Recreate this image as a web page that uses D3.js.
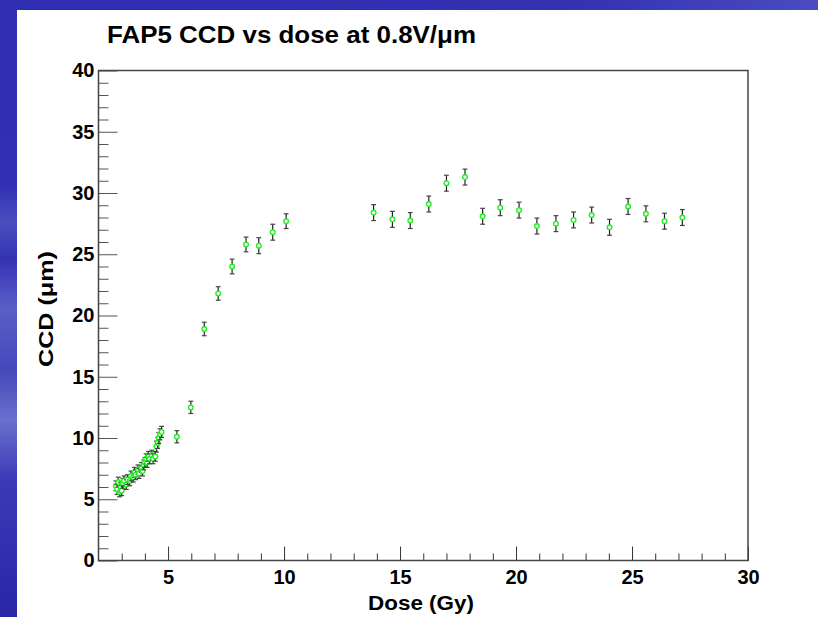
<!DOCTYPE html>
<html>
<head>
<meta charset="utf-8">
<script src="https://cdn.jsdelivr.net/npm/d3@7"></script>
<style>
  body { margin: 0; background: #fff; }
  svg { display: block; }
  .tick text { font-family: "Liberation Sans", Arial, sans-serif; font-weight: bold; font-size: 20px; fill: #000; }
</style>
</head>
<body>
<svg id="chart" width="818" height="617"></svg>
<script>
// data
const doseGy = [
  2.75, 2.8, 2.85, 2.9, 2.95, 3.0, 3.05, 3.1, 3.2, 3.25, 3.35, 3.4, 3.5, 3.55, 3.6,
  3.7, 3.75, 3.85, 3.9, 3.95, 4.0, 4.05, 4.1, 4.15, 4.2, 4.3, 4.35, 4.45, 4.5, 4.55,
  4.6, 4.65, 4.72,
  5.38, 5.98, 6.56, 7.16, 7.76, 8.36, 8.91, 9.51, 10.09,
  13.86, 14.67, 15.44, 16.24, 17.0, 17.8, 18.56, 19.32, 20.13, 20.9,
  21.72, 22.48, 23.26, 24.03, 24.83, 25.6, 26.4, 27.17
];
const ccdUm = [
  6.1, 5.8, 6.4, 5.6, 6.0, 5.7, 6.3, 6.5, 6.2, 6.6, 6.5, 6.9, 6.8, 7.2, 7.0,
  7.4, 7.1, 7.6, 7.3, 7.8, 8.0, 8.3, 8.0, 8.5, 8.3, 8.6, 8.3, 8.5, 9.3, 9.6,
  10.0, 10.3, 10.5,
  10.1, 12.5, 18.9, 21.8, 24.0, 25.8, 25.7, 26.8, 27.7,
  28.4, 27.85, 27.75, 29.1, 30.8, 31.3, 28.1, 28.8, 28.6, 27.3,
  27.5, 27.8, 28.2, 27.2, 28.9, 28.3, 27.7, 28.0
];
const ccdErr = [
  0.4, 0.4, 0.4, 0.4, 0.4, 0.4, 0.4, 0.4, 0.4, 0.4, 0.4, 0.4, 0.4, 0.4, 0.4,
  0.4, 0.4, 0.4, 0.4, 0.4, 0.4, 0.4, 0.4, 0.4, 0.4, 0.4, 0.4, 0.4, 0.45, 0.45,
  0.45, 0.45, 0.45,
  0.5, 0.5, 0.55, 0.55, 0.6, 0.6, 0.65, 0.65, 0.6,
  0.65, 0.65, 0.65, 0.65, 0.65, 0.65, 0.65, 0.65, 0.65, 0.65,
  0.65, 0.65, 0.65, 0.65, 0.65, 0.65, 0.65, 0.65
];
const xMajor = [5, 10, 15, 20, 25, 30];
const yMajor = [0, 5, 10, 15, 20, 25, 30, 35, 40];

const svg = d3.select("#chart");
const font = '"Liberation Sans", Arial, sans-serif';

// slide background (blue band on the left and top)
const defs = svg.append("defs");
const g1 = defs.append("linearGradient").attr("id", "slideBg")
  .attr("x1", 0).attr("y1", 0).attr("x2", 0).attr("y2", 1);
[[0, "#2f2db0"], [0.3, "#312fb2"], [0.36, "#4a4fc0"], [0.42, "#3433b3"],
 [0.5, "#5a5fc6"], [0.6, "#4448bb"], [0.68, "#6a70cc"], [0.78, "#3a3ab6"], [1, "#2a26a8"]]
  .forEach(s => g1.append("stop").attr("offset", s[0]).attr("stop-color", s[1]));
const g2 = defs.append("linearGradient").attr("id", "topBg")
  .attr("x1", 0).attr("y1", 0).attr("x2", 1).attr("y2", 0);
[[0, "#2f2db0"], [0.7, "#3232b3"], [1, "#4a4cc0"]]
  .forEach(s => g2.append("stop").attr("offset", s[0]).attr("stop-color", s[1]));

svg.append("rect").attr("width", 818).attr("height", 617).attr("fill", "url(#slideBg)");
svg.append("rect").attr("width", 818).attr("height", 10).attr("fill", "url(#topBg)");
svg.append("rect").attr("x", 17).attr("y", 10).attr("width", 801).attr("height", 607).attr("fill", "#fff");

const x = d3.scaleLinear().domain([2, 30]).range([98.5, 748]);
const y = d3.scaleLinear().domain([0, 40]).range([560.5, 70.5]);

// title
svg.append("text")
  .attr("x", 107).attr("y", 43)
  .attr("font-family", font).attr("font-weight", "bold").attr("font-size", 24)
  .attr("textLength", 369).attr("lengthAdjust", "spacingAndGlyphs")
  .text("FAP5 CCD vs dose at 0.8V/\u03bcm");

// minor ticks
const xMinor = d3.range(3, 30).filter(d => d % 5 !== 0);
const yMinor = d3.range(1, 40).filter(d => d % 5 !== 0);

svg.append("g").attr("transform", `translate(0,${y(0)})`)
  .call(d3.axisBottom(x).tickValues(xMinor).tickSize(-7).tickFormat(""))
  .call(g => g.select(".domain").remove())
  .call(g => g.selectAll("line").attr("stroke", "#333"));
svg.append("g").attr("transform", `translate(0,${y(0)})`)
  .call(d3.axisBottom(x).tickValues(xMajor).tickSize(-14).tickPadding(9).tickFormat(d3.format("d")))
  .call(g => g.select(".domain").remove())
  .call(g => g.selectAll("line").attr("stroke", "#333"));

svg.append("g").attr("transform", `translate(${x(2)},0)`)
  .call(d3.axisLeft(y).tickValues(yMinor).tickSize(-10).tickFormat(""))
  .call(g => g.select(".domain").remove())
  .call(g => g.selectAll("line").attr("stroke", "#555"));
svg.append("g").attr("transform", `translate(${x(2)},0)`)
  .call(d3.axisLeft(y).tickValues(yMajor).tickSize(-19).tickPadding(4).tickFormat(d3.format("d")))
  .call(g => g.select(".domain").remove())
  .call(g => g.selectAll("line").attr("stroke", "#555"));

// frame
svg.append("rect")
  .attr("x", x(2)).attr("y", y(40))
  .attr("width", x(30) - x(2)).attr("height", y(0) - y(40))
  .attr("fill", "none").attr("stroke", "#444").attr("stroke-width", 1.5);

// axis titles
svg.append("text")
  .attr("x", 421).attr("y", 610).attr("text-anchor", "middle")
  .attr("font-family", font).attr("font-weight", "bold").attr("font-size", 21)
  .attr("textLength", 106).attr("lengthAdjust", "spacingAndGlyphs")
  .text("Dose (Gy)");
svg.append("text")
  .attr("transform", "translate(53,309) rotate(-90)").attr("text-anchor", "middle")
  .attr("font-family", font).attr("font-weight", "bold").attr("font-size", 21)
  .attr("textLength", 116).attr("lengthAdjust", "spacingAndGlyphs")
  .text("CCD (\u03bcm)");

// points with error bars
const pts = doseGy.map((d, i) => ({ d, v: ccdUm[i], e: ccdErr[i] }));
const pg = svg.append("g");
const cap = 2.4;
const bars = pg.selectAll("g.pt").data(pts).join("g").attr("class", "pt");
bars.append("line")
  .attr("x1", p => x(p.d)).attr("x2", p => x(p.d))
  .attr("y1", p => y(p.v + p.e)).attr("y2", p => y(p.v - p.e))
  .attr("stroke", "#222").attr("stroke-width", 1.2);
bars.selectAll("line.cap").data(p => [[p.d, p.v + p.e], [p.d, p.v - p.e]]).join("line")
  .attr("class", "cap")
  .attr("x1", c => x(c[0]) - cap).attr("x2", c => x(c[0]) + cap)
  .attr("y1", c => y(c[1])).attr("y2", c => y(c[1]))
  .attr("stroke", "#444").attr("stroke-width", 1.2);
bars.append("circle")
  .attr("cx", p => x(p.d)).attr("cy", p => y(p.v)).attr("r", 2.3)
  .attr("fill", "#fff").attr("stroke", "#22ee22").attr("stroke-width", 1.4);
</script>
</body>
</html>
